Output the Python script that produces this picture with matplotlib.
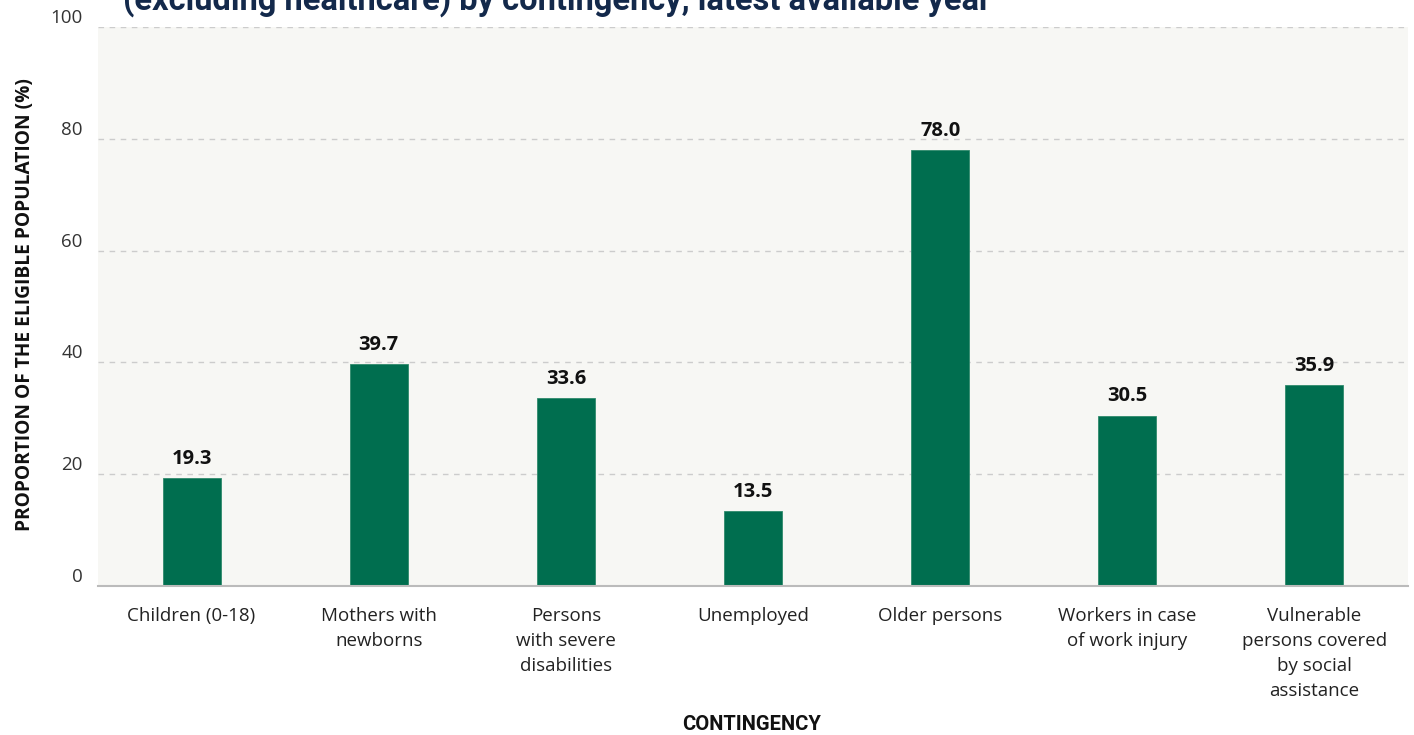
import matplotlib
matplotlib.use("Agg")
import matplotlib.pyplot as plt

categories = [
    "Children (0-18)",
    "Mothers with\nnewborns",
    "Persons\nwith severe\ndisabilities",
    "Unemployed",
    "Older persons",
    "Workers in case\nof work injury",
    "Vulnerable\npersons covered\nby social\nassistance",
]
coverage = [19.3, 39.7, 33.6, 13.5, 78.0, 30.5, 35.9]
y_ticks = [0, 20, 40, 60, 80, 100]

title = "(excluding healthcare) by contingency, latest available year"
y_label = "PROPORTION OF THE ELIGIBLE POPULATION (%)"
x_label = "CONTINGENCY"

BAR = "#006e4f"
BG = "#f7f7f4"
TEXT = "#222222"
SANS = ["Open Sans", "DejaVu Sans"]

W, H = 1414, 735
fig = plt.figure(figsize=(W / 100, H / 100), dpi=100)
ax = fig.add_axes([98 / W, (H - 586) / H, 1310 / W, (586 - 27) / H])
ax.set_facecolor(BG)

x = list(range(len(categories)))
ax.bar(x, coverage, width=0.31, color=BAR, edgecolor="#2f8a6c", linewidth=0.6, zorder=3)

for xi, v in zip(x, coverage):
    ax.annotate(f"{v:.1f}", (xi, v), xytext=(0, 6.5), textcoords="offset points",
                ha="center", va="bottom", fontsize=14.5, fontweight="bold",
                family=SANS, color="#111111")

ax.set_xlim(-0.5, len(categories) - 0.5)
ax.set_ylim(0, 100)
ax.set_yticks(y_ticks)
ax.set_yticklabels([str(t) for t in y_ticks], fontsize=13.5, color="#333333",
                   family=SANS)
# tick numbers sit just above their gridlines
for lbl in ax.get_yticklabels():
    lbl.set_verticalalignment("bottom")

ax.set_xticks(x)
ax.set_xticklabels(categories, fontsize=13.5, color=TEXT, linespacing=1.5,
                   family=SANS, va="top")
ax.tick_params(axis="both", length=0)
ax.tick_params(axis="x", pad=15)
ax.tick_params(axis="y", pad=11)

ax.grid(axis="y", color="#cccccc", linestyle=(0, (4, 4)), linewidth=1, zorder=0)
for side in ("top", "right", "left"):
    ax.spines[side].set_visible(False)
ax.spines["bottom"].set_color("#bbbbbb")
ax.spines["bottom"].set_linewidth(1.5)
ax.spines["bottom"].set_zorder(4)

fig.text(25 / W, (H - 305) / H, y_label, rotation=90, ha="center", va="center",
         fontsize=13.8, fontweight="bold", color="#111111", family=SANS)
fig.text(752 / W, (H - 724) / H, x_label, ha="center", va="center",
         fontsize=14.5, fontweight="bold", color="#111111",
         family=["Roboto", "DejaVu Sans"])

fig.text(123 / W, (H - 10) / H, title, ha="left", va="baseline",
         fontsize=23.5, fontweight="bold", color="#13294b",
         family=["Roboto", "DejaVu Sans"])

fig.savefig("out.png", dpi=100, facecolor="white")
